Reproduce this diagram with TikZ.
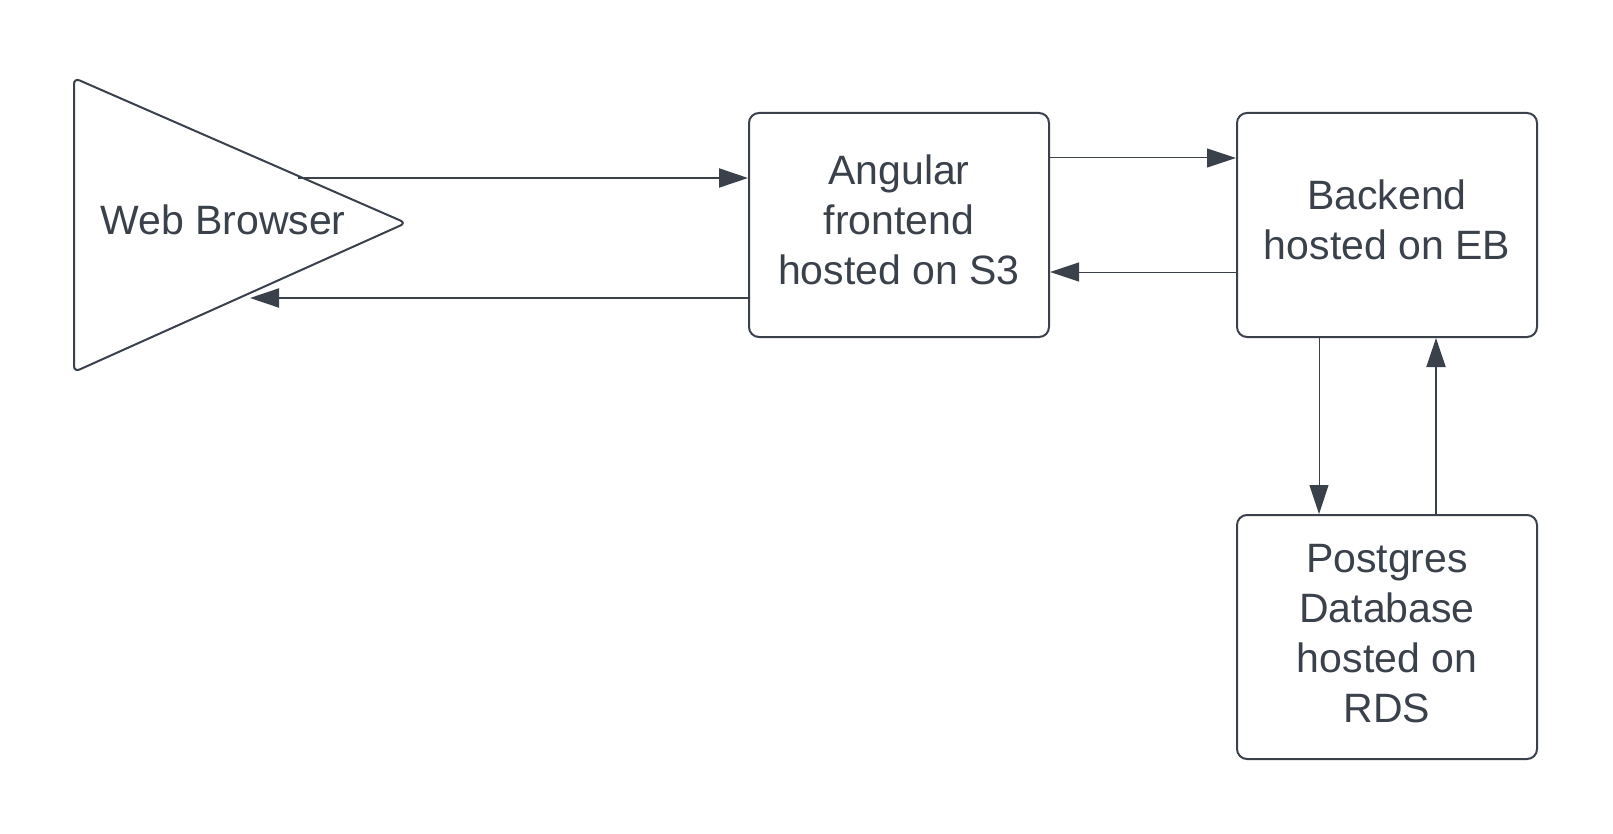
\documentclass[tikz,border=0pt]{standalone}
\usepackage{fontspec}
\setmainfont{Liberation Sans}
\usetikzlibrary{arrows.meta,calc}
\definecolor{ink}{HTML}{3A414A}
\newcommand\mlines[1]{\begin{tabular}{@{}c@{}}#1\end{tabular}}
\begin{document}
\begin{tikzpicture}[x=1pt,y=-1pt,
  box/.style={draw=ink, line width=2pt, rounded corners=10pt, minimum width=300pt,
    inner sep=0pt, text=ink, font=\fontsize{41}{50}\selectfont},
  lbl/.style={text=ink, inner sep=0pt, font=\fontsize{41}{50}\selectfont},
  thickconn/.style={draw=ink, line width=2pt, -{Triangle[length=29pt,width=19pt]}},
  thinconn/.style={draw=ink, line width=1pt, -{Triangle[length=29pt,width=19pt]}}]
\useasboundingbox (0,0) rectangle (1613,834);
\fill[white] (0,0) rectangle (1613,834);
% shapes
\draw[ink, line width=2pt, rounded corners=6pt] (74,225) -- (74,78) -- (406,223) -- (74,372) -- cycle;
\node[lbl] (web) at (223,220) {Web Browser};
\node[box, minimum height=224pt] (ang) at (899,225) {\mlines{Angular\\frontend\\hosted on S3}};
\node[box, minimum height=224pt] (back) at (1387,225) {\mlines{Backend\\hosted on EB}};
\node[box, minimum height=244pt] (db) at (1387,637) {\mlines{Postgres\\Database\\hosted on\\RDS}};
% connector ends
\coordinate (w1) at (298,178);
\coordinate (w2) at (250,298);
\coordinate (a1) at (1049,158);
\coordinate (b1) at (1237,272);
\coordinate (b2) at (1319,337);
\coordinate (d1) at (1436,515);
% connectors
\draw[thickconn] (w1) -- (w1 -| ang.west);
\draw[thickconn] (w2 -| ang.west) -- (w2);
\draw[thinconn] (a1) -- (a1 -| back.west);
\draw[thinconn] (b1) -- (b1 -| ang.east);
\draw[thinconn] (b2) -- (b2 |- db.north);
\draw[thickconn] (d1) -- (d1 |- back.south);
\end{tikzpicture}
\end{document}
